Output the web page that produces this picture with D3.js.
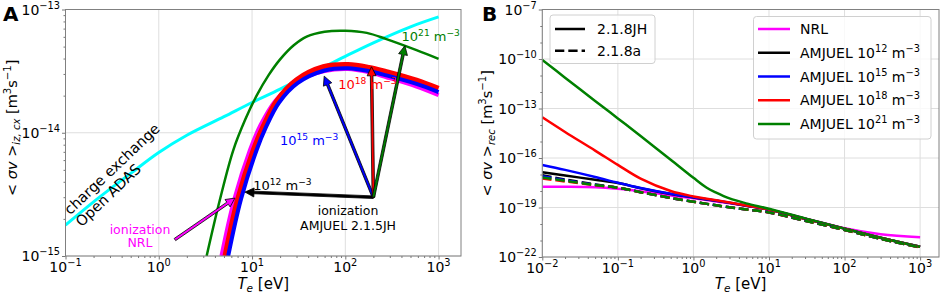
<!DOCTYPE html>
<html><head><meta charset="utf-8">
<script src="https://cdn.jsdelivr.net/npm/d3@7"></script>
<style>body{margin:0;background:#fff} svg{display:block} text{font-family:"DejaVu Sans",sans-serif}</style>
</head><body><svg id="c" width="941" height="293"></svg>
<script>
// ---------- Panel A data (rate coefficient, m^3/s vs Te, eV) ----------
const cxTe   = [0.1,0.2,0.5,1,2,5,10,20,50,100,200,500,1000];
const cxRate = [1.78e-15,2.75e-15,4.68e-15,6.92e-15,9.55e-15,1.35e-14,1.76e-14,2.26e-14,3.20e-14,4.17e-14,5.37e-14,7.24e-14,8.71e-14];
const izNrlTe   = [4.7,6.45,9.5,12.3,17.8,30,60,107,180,276,580,1000];
const izNrlRate = [1.0e-15,2.88e-15,7.24e-15,1.15e-14,1.82e-14,2.60e-14,3.16e-14,3.29e-14,3.09e-14,2.82e-14,2.37e-14,2.02e-14];
const iz18Te   = [5.13,7,10.3,13.1,18.4,30,58,107,180,276,580,1000];
const iz18Rate = [1.0e-15,2.88e-15,7.24e-15,1.12e-14,1.82e-14,2.69e-14,3.43e-14,3.58e-14,3.39e-14,3.13e-14,2.67e-14,2.29e-14];
const iz15Te   = [5.55,7.6,11.2,14.1,19.5,31,60,107,180,276,580,1000];
const iz15Rate = [1.0e-15,2.88e-15,7.24e-15,1.11e-14,1.76e-14,2.54e-14,3.20e-14,3.34e-14,3.16e-14,2.92e-14,2.49e-14,2.14e-14];
const iz21Te   = [3.26,4.5,6.3,8.5,11.2,15,20,28,38.5,60,100,170,276,580,1000];
const iz21Rate = [1.0e-15,2.82e-15,7.24e-15,1.29e-14,2.0e-14,2.92e-14,3.94e-14,5.13e-14,6.03e-14,6.61e-14,6.73e-14,6.46e-14,5.75e-14,4.68e-14,3.98e-14];
// annotation anchors (Te, rate)
const arrowOrigin = [200, 3.0e-15];
const arrowTips = [
  {name:"1e12", Te:8.4, rate:3.3e-15, color:"#000000"},
  {name:"1e15", Te:59.4, rate:2.88e-14, color:"#0000ff"},
  {name:"1e18", Te:191, rate:3.43e-14, color:"#ff0000"},
  {name:"1e21", Te:435, rate:5.08e-14, color:"#008000"}
];
const densLabels = [
  {exp:"12", Te:10.3, rate:3.41e-15, color:"#000000"},
  {exp:"15", Te:19.9, rate:7.9e-15, color:"#0000ff"},
  {exp:"18", Te:84, rate:2.26e-14, color:"#ff0000"},
  {exp:"21", Te:401, rate:5.55e-14, color:"#008000"}
];
const nrlArrow = {from:[1.49,1.36e-15], to:[6.56,2.95e-15]};

// ---------- Panel B data (recombination) ----------
const recTe = [0.01,0.02,0.05,0.1,0.2,0.5,1,1.5,2,3,5,10,30,100,300,1000];
const recNRL  = [1.82e-18,1.82e-18,1.70e-18,1.35e-18,9.55e-19,5.37e-19,3.63e-19,2.82e-19,2.34e-19,1.78e-19,1.26e-19,7.41e-20,2.19e-20,5.50e-21,2.40e-21,1.58e-21];
const recJH12 = [1.35e-17,8.71e-18,4.79e-18,3.02e-18,1.48e-18,6.61e-19,4.07e-19,3.09e-19,2.57e-19,1.91e-19,1.29e-19,7.41e-20,2.09e-20,5.25e-21,1.48e-21,4.17e-22];
const recJH15 = [3.80e-17,1.91e-17,7.08e-18,3.16e-18,1.51e-18,6.76e-19,4.17e-19,3.16e-19,2.63e-19,1.95e-19,1.32e-19,7.59e-20,2.09e-20,5.25e-21,1.48e-21,4.17e-22];
const recJH18 = [2.95e-14,3.80e-15,2.82e-16,3.80e-17,5.62e-18,1.0e-18,4.68e-19,3.39e-19,2.75e-19,2.0e-19,1.32e-19,7.41e-20,2.09e-20,5.25e-21,1.48e-21,4.17e-22];
const recJH21 = [8.71e-11,7.41e-12,2.88e-13,2.51e-14,2.14e-15,7.94e-17,6.31e-18,1.58e-18,7.94e-19,3.55e-19,1.78e-19,8.32e-20,2.19e-20,5.25e-21,1.48e-21,4.17e-22];
const recA12  = [8.91e-18,5.01e-18,2.51e-18,1.58e-18,8.51e-19,3.80e-19,2.24e-19,1.66e-19,1.35e-19,1.02e-19,7.59e-20,5.01e-20,1.58e-20,4.37e-21,1.26e-21,3.80e-22];
const recA15  = [7.94e-18,4.57e-18,2.40e-18,1.58e-18,8.51e-19,3.80e-19,2.24e-19,1.66e-19,1.35e-19,1.02e-19,7.59e-20,5.01e-20,1.58e-20,4.37e-21,1.26e-21,3.80e-22];
const recA18  = [5.62e-18,3.80e-18,2.24e-18,1.58e-18,8.51e-19,3.80e-19,2.24e-19,1.66e-19,1.35e-19,1.02e-19,7.59e-20,5.01e-20,1.58e-20,4.37e-21,1.26e-21,3.80e-22];
const recA21  = [6.61e-18,4.17e-18,2.29e-18,1.58e-18,8.51e-19,3.80e-19,2.24e-19,1.66e-19,1.35e-19,1.02e-19,7.59e-20,5.01e-20,1.58e-20,4.37e-21,1.26e-21,3.80e-22];

const xTicksA = [0.1,1,10,100,1000], xTickExpA = ["−1","0","1","2","3"];
const yTicksA = [1e-15,1e-14,1e-13], yTickExpA = ["−15","−14","−13"];
const xTicksB = [0.01,0.1,1,10,100,1000], xTickExpB = ["−2","−1","0","1","2","3"];
const yTicksB = [1e-22,1e-19,1e-16,1e-13,1e-10,1e-7], yTickExpB = ["−22","−19","−16","−13","−10","−7"];
const styleLegendLabels = ["2.1.8JH","2.1.8a"];
const densLegendLabels = [null,"12","15","18","21"];

// ---------- helpers ----------
const svg = d3.select("#c");
const FS = 14;
function rich(t, parts, size){
  let cur = 0;
  parts.forEach(p=>{
    const target = p.s==='sup' ? -0.42*size : p.s==='sub' ? 0.22*size : 0;
    const ts = t.append('tspan').text(p.t).attr('dy', (target-cur).toFixed(2)).attr('font-size', p.s ? size*0.7 : size);
    if(p.i) ts.attr('font-style','italic');
    cur = target;
  });
  return t;
}
function minorTicks(domain){
  const out=[]; const lo=Math.floor(Math.log10(domain[0])), hi=Math.ceil(Math.log10(domain[1]));
  for(let e=lo;e<hi;e++) for(let k=2;k<=9;k++){const v=k*Math.pow(10,e); if(v>=domain[0]&&v<=domain[1]) out.push(v);}
  return out;
}
function frame(g, x, y, W, H, xt, xe, yt, ye, yMinor){
  g.append('g').selectAll('line').data(xt).join('line')
    .attr('x1',d=>x(d)).attr('x2',d=>x(d)).attr('y1',0).attr('y2',H).attr('stroke','#dedede').attr('stroke-width',1);
  g.append('g').selectAll('line').data(yt).join('line')
    .attr('y1',d=>y(d)).attr('y2',d=>y(d)).attr('x1',0).attr('x2',W).attr('stroke','#dedede').attr('stroke-width',1);
  g.append('g').attr('transform',`translate(0,${H})`)
    .call(d3.axisBottom(x).tickValues(xt).tickSize(3.5).tickFormat(()=>''));
  g.append('g').attr('transform',`translate(0,${H})`)
    .call(d3.axisBottom(x).tickValues(minorTicks(x.domain())).tickSize(2).tickFormat(()=>''));
  g.append('g').call(d3.axisLeft(y).tickValues(yt).tickSize(3.5).tickFormat(()=>''));
  g.append('g').call(d3.axisLeft(y).tickValues(yMinor).tickSize(2).tickFormat(()=>''));
  g.selectAll('.domain').remove();
  g.selectAll('.tick line').attr('stroke','#555').attr('stroke-width',0.8);
  xt.forEach((v,i)=>{
    rich(g.append('text').attr('x',x(v)).attr('y',H+16).attr('text-anchor','middle').attr('fill','#000'),
      [{t:'10'},{t:xe[i],s:'sup'}], FS);
  });
  yt.forEach((v,i)=>{
    rich(g.append('text').attr('x',-5.5).attr('y',y(v)+5).attr('text-anchor','end').attr('fill','#000'),
      [{t:'10'},{t:ye[i],s:'sup'}], FS);
  });
}
function border(g,W,H){
  g.append('rect').attr('x',0).attr('y',0).attr('width',W).attr('height',H)
    .attr('fill','none').attr('stroke','#808080').attr('stroke-width',1);
}
function arrow(g, x1,y1,x2,y2, fill){
  const dx=x2-x1, dy=y2-y1, L=Math.hypot(dx,dy), ux=dx/L, uy=dy/L, px=-uy, py=ux;
  const w=1.3, hl=9, hw=4.5;
  const bx=x2-ux*hl, by=y2-uy*hl;
  const pts=[[x1+px*w,y1+py*w],[bx+px*w,by+py*w],[bx+px*hw,by+py*hw],[x2,y2],[bx-px*hw,by-py*hw],[bx-px*w,by-py*w],[x1-px*w,y1-py*w]];
  g.append('polygon').attr('points',pts.map(p=>p.join(',')).join(' '))
    .attr('fill',fill).attr('stroke','#000').attr('stroke-width',0.8).attr('stroke-linejoin','miter');
}

// ---------- Panel A ----------
const A = {l:65.5, t:9.5, r:461, b:256};
const WA = A.r-A.l, HA = A.b-A.t;
const xA = d3.scaleLog().domain([0.1,1740]).range([0,WA]);
const yA = d3.scaleLog().domain([1e-15,1e-13]).range([HA,0]);
const gA = svg.append('g').attr('transform',`translate(${A.l},${A.t})`);
gA.append('clipPath').attr('id','clipA').append('rect').attr('width',WA).attr('height',HA);
frame(gA, xA, yA, WA, HA, xTicksA, xTickExpA, yTicksA, yTickExpA, minorTicks([1e-15,1e-13]));
const lineA = d3.line().x(d=>xA(d[0])).y(d=>yA(d[1])).curve(d3.curveCatmullRom.alpha(0.5));
const curvesA = gA.append('g').attr('clip-path','url(#clipA)');
const seriesA = [
  {te:cxTe, r:cxRate, c:'#00ffff', w:3},
  {te:iz21Te, r:iz21Rate, c:'#008000', w:2.5},
  {te:izNrlTe, r:izNrlRate, c:'#ff00ff', w:4},
  {te:iz18Te, r:iz18Rate, c:'#ff0000', w:5},
  {te:iz15Te, r:iz15Rate, c:'#0000ff', w:4}
];
seriesA.forEach(s=>{
  curvesA.append('path').attr('d', lineA(d3.zip(s.te, s.r)))
    .attr('fill','none').attr('stroke',s.c).attr('stroke-width',s.w);
});
border(gA,WA,HA);
const ox = xA(arrowOrigin[0]), oy = yA(arrowOrigin[1]);
arrowTips.forEach(a=>arrow(gA, ox, oy, xA(a.Te), yA(a.rate), a.color));
arrow(gA, xA(nrlArrow.from[0]), yA(nrlArrow.from[1]), xA(nrlArrow.to[0]), yA(nrlArrow.to[1]), '#ff00ff');
densLabels.forEach(d=>{
  rich(gA.append('text').attr('x',xA(d.Te)).attr('y',yA(d.rate)).attr('fill',d.color),
    [{t:'10'},{t:d.exp,s:'sup'},{t:' m'},{t:'−3',s:'sup'}], 13);
});
const amj = gA.append('text').attr('text-anchor','middle').attr('font-size',12.5).attr('fill','#000');
amj.append('tspan').attr('x',xA(107)).attr('y',yA(2.15e-15)).text('ionization');
amj.append('tspan').attr('x',xA(107)).attr('y',yA(2.15e-15)+15).text('AMJUEL 2.1.5JH');
const nrl = gA.append('text').attr('text-anchor','middle').attr('font-size',12.5).attr('fill','#ff00ff');
nrl.append('tspan').attr('x',xA(0.629)).attr('y',yA(1.51e-15)).text('ionization');
nrl.append('tspan').attr('x',xA(0.629)).attr('y',yA(1.51e-15)+13.5).text('NRL');
const cxg = gA.append('g').attr('transform',`translate(${xA(0.112)},${yA(2.13e-15)}) rotate(-43.4)`);
cxg.append('text').attr('x',0).attr('y',0).attr('font-size',14.5).text('charge exchange');
cxg.append('text').attr('x',0).attr('y',16.5).attr('font-size',14.5).text('Open ADAS');
rich(svg.append('text').attr('x',(A.l+A.r)/2).attr('y',288.5).attr('text-anchor','middle'),
  [{t:'T',i:true},{t:'e',s:'sub',i:true},{t:'  [eV]'}], 15);
rich(svg.append('text').attr('transform',`translate(17,${(A.t+A.b)/2-5}) rotate(-90)`).attr('text-anchor','middle'),
  [{t:'< '},{t:'σv',i:true},{t:' >'},{t:'iz, cx',s:'sub',i:true},{t:'  [m'},{t:'3',s:'sup'},{t:'s'},{t:'−1',s:'sup'},{t:']'}], 14.5);
svg.append('text').attr('x',3).attr('y',20.5).attr('font-size',20).attr('font-weight','bold').text('A');

// ---------- Panel B ----------
const B = {l:542.3, t:9.5, r:939, b:257};
const WB = B.r-B.l, HB = B.b-B.t;
const xB = d3.scaleLog().domain([0.01,1778]).range([0,WB]);
const yB = d3.scaleLog().domain([1e-22,1e-7]).range([HB,0]);
const gB = svg.append('g').attr('transform',`translate(${B.l},${B.t})`);
gB.append('clipPath').attr('id','clipB').append('rect').attr('width',WB).attr('height',HB);
const yMinorB = d3.range(-22,-6).map(e=>Math.pow(10,e)).filter(v=>!yTicksB.some(t=>Math.abs(Math.log10(t)-Math.log10(v))<1e-6));
frame(gB, xB, yB, WB, HB, xTicksB, xTickExpB, yTicksB, yTickExpB, yMinorB);
const lineB = d3.line().x(d=>xB(d[0])).y(d=>yB(d[1])).curve(d3.curveCatmullRom.alpha(0.5));
const curvesB = gB.append('g').attr('clip-path','url(#clipB)');
const seriesB = [
  {r:recNRL, c:'#ff00ff', dash:null},
  {r:recJH12, c:'#000000', dash:null},
  {r:recJH15, c:'#0000ff', dash:null},
  {r:recJH18, c:'#ff0000', dash:null},
  {r:recJH21, c:'#008000', dash:null},
  {r:recA12, c:'#000000', dash:'9.3,4'},
  {r:recA15, c:'#0000ff', dash:'9.3,4'},
  {r:recA18, c:'#ff0000', dash:'9.3,4'},
  {r:recA21, c:'#008000', dash:'9.3,4'}
];
seriesB.forEach(s=>{
  const p = curvesB.append('path').attr('d', lineB(d3.zip(recTe, s.r)))
    .attr('fill','none').attr('stroke',s.c).attr('stroke-width',2.5);
  if(s.dash) p.attr('stroke-dasharray',s.dash);
});
border(gB,WB,HB);
const lg1 = svg.append('g');
lg1.append('rect').attr('x',550).attr('y',15).attr('width',105).attr('height',48.5).attr('rx',3)
  .attr('fill','#fff').attr('fill-opacity',0.8).attr('stroke','#d0d0d0');
styleLegendLabels.forEach((lab,i)=>{
  const yy = 29 + i*21.7;
  const l = lg1.append('line').attr('x1',555).attr('x2',585).attr('y1',yy).attr('y2',yy).attr('stroke','#000').attr('stroke-width',2.5);
  if(i===1) l.attr('stroke-dasharray','9.3,4');
  lg1.append('text').attr('x',597).attr('y',yy+5).attr('font-size',14).text(lab);
});
const lg2 = svg.append('g');
lg2.append('rect').attr('x',753.5).attr('y',16.5).attr('width',177.5).attr('height',122.5).attr('rx',3)
  .attr('fill','#fff').attr('fill-opacity',0.8).attr('stroke','#d0d0d0');
const legCols = ['#ff00ff','#000000','#0000ff','#ff0000','#008000'];
densLegendLabels.forEach((e,i)=>{
  const yy = 29 + i*23.75;
  lg2.append('line').attr('x1',758).attr('x2',790).attr('y1',yy).attr('y2',yy).attr('stroke',legCols[i]).attr('stroke-width',2.5);
  const t = lg2.append('text').attr('x',800).attr('y',yy+5);
  if(e===null) rich(t,[{t:'NRL'}],14);
  else rich(t,[{t:'AMJUEL 10'},{t:e,s:'sup'},{t:' m'},{t:'−3',s:'sup'}],14);
});
rich(svg.append('text').attr('x',(B.l+B.r)/2).attr('y',288.5).attr('text-anchor','middle'),
  [{t:'T',i:true},{t:'e',s:'sub',i:true},{t:'  [eV]'}], 15);
rich(svg.append('text').attr('transform',`translate(492,${(B.t+B.b)/2}) rotate(-90)`).attr('text-anchor','middle'),
  [{t:'< '},{t:'σv',i:true},{t:' >'},{t:'rec',s:'sub',i:true},{t:'  [m'},{t:'3',s:'sup'},{t:'s'},{t:'−1',s:'sup'},{t:']'}], 14.5);
svg.append('text').attr('x',482).attr('y',20.5).attr('font-size',20).attr('font-weight','bold').text('B');
</script></body></html>
